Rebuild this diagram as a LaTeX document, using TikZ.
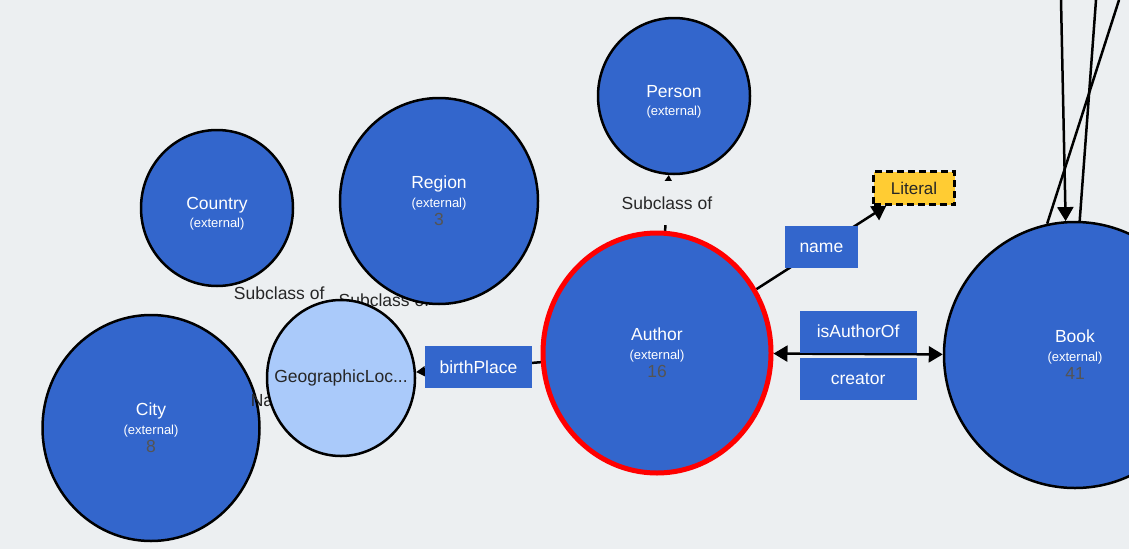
\documentclass[tikz,border=0pt]{standalone}
\usepackage{fontspec}
\setmainfont{Liberation Sans}
\usetikzlibrary{arrows.meta,shapes.geometric,backgrounds}

\definecolor{canvas}{HTML}{ECEFF1}
\definecolor{clsblue}{HTML}{3366CC}
\definecolor{extblue}{HTML}{AACAFA}
\definecolor{lityellow}{HTML}{FFCC33}
\definecolor{numgray}{HTML}{545454}

\newcommand{\extnote}{{\fontsize{13}{14}\selectfont (external)}}
\newcommand{\inst}[1]{{\color{numgray}#1}}

\tikzstyle{cls}=[ellipse,
    draw=black,
    line width=2.5pt,
    fill=clsblue,
    text=white,
    align=center,
    inner sep=0pt,
    font=\fontsize{17.5}{18.5}\selectfont]
\tikzstyle{prop}=[rectangle,
    fill=clsblue,
    text=white,
    inner xsep=14.5pt,
    minimum height=42pt,
    font=\fontsize{17.5}{19}\selectfont]
\tikzstyle{lbl}=[fill=canvas,
    text=black!85,
    inner sep=1pt,
    font=\fontsize{17.5}{19}\selectfont]
\tikzstyle{link}=[line width=2.5pt, draw=black]
\tikzstyle{tip}=[-{Triangle[width=16pt,length=14pt]}]

\begin{document}
\begin{tikzpicture}[x=1pt,y=-1pt]
    \useasboundingbox (0,0) rectangle (1129,549);
    \node[cls, minimum width=152pt, minimum height=156pt] (Person) at (674,96) {\mbox{}\\[5pt]Person\\\extnote};
    \node[cls, minimum width=152pt, minimum height=156pt] (Country) at (217,208) {\mbox{}\\[5pt]Country\\\extnote};
    \node[cls, minimum width=198pt, minimum height=206pt] (Region) at (439,201) {Region\\\extnote\\\inst{3}};
    \node[cls, minimum width=217pt, minimum height=226pt] (City) at (151,428) {City\\\extnote\\\inst{8}};
    \node[lbl, fill=none] (nalbl) at (262,401) {Na};
    \node[cls, fill=extblue, text=black!85, minimum width=148pt, minimum height=156pt] (GeoLoc) at (341,378) {\makebox[0pt]{GeographicLoc...}};
    \node[cls, draw=red, line width=5pt, minimum width=228pt, minimum height=240pt] (Author) at (657,353) {Author\\\extnote\\\inst{16}};
    \node[cls, minimum width=262pt, minimum height=266pt] (Book) at (1075,355) {Book\\\extnote\\\inst{41}};
    \node[rectangle, draw=black, line width=2.5pt, dash pattern=on 7pt off 4pt, fill=lityellow,
        minimum width=81pt, minimum height=33pt, text=black!85,
        font=\fontsize{17}{18}\selectfont] (Literal) at (914,188) {Literal};
    \begin{scope}[on background layer]
        \fill[canvas] (0,0) rectangle (1129,549);
        \coordinate (in1) at (1061,0);
        \coordinate (in2) at (1096,0);
        \coordinate (in3) at (1119,0);
        \draw[link, -{Triangle[width=7pt,length=6pt]}] (Author) -- node[lbl, minimum height=44pt] {Subclass of} (Person);
        \path (GeoLoc) -- node[lbl] {Subclass of} (Country);
        \path (GeoLoc) -- node[lbl] {Subclass of} (Region);
        \draw[link, -{Triangle[width=10pt,length=9pt]}] (Author) -- node[prop] {birthPlace} (GeoLoc);
        \draw[link, tip] (Author) -- node[prop] {name} (Literal);
        \draw[link, {Triangle[width=16pt,length=14pt]}-{Triangle[width=16pt,length=14pt]}] (Author) --
            node[prop, anchor=south, minimum width=117pt] {isAuthorOf}
            node[prop, anchor=north, minimum width=117pt, yshift=-3pt] {creator} (Book);
        \draw[link, tip] (in1) -- (Book.94);
        \draw[link] (in2) -- (Book.88);
        \draw[link] (in3) -- (Book.102);
    \end{scope}
\end{tikzpicture}
\end{document}
